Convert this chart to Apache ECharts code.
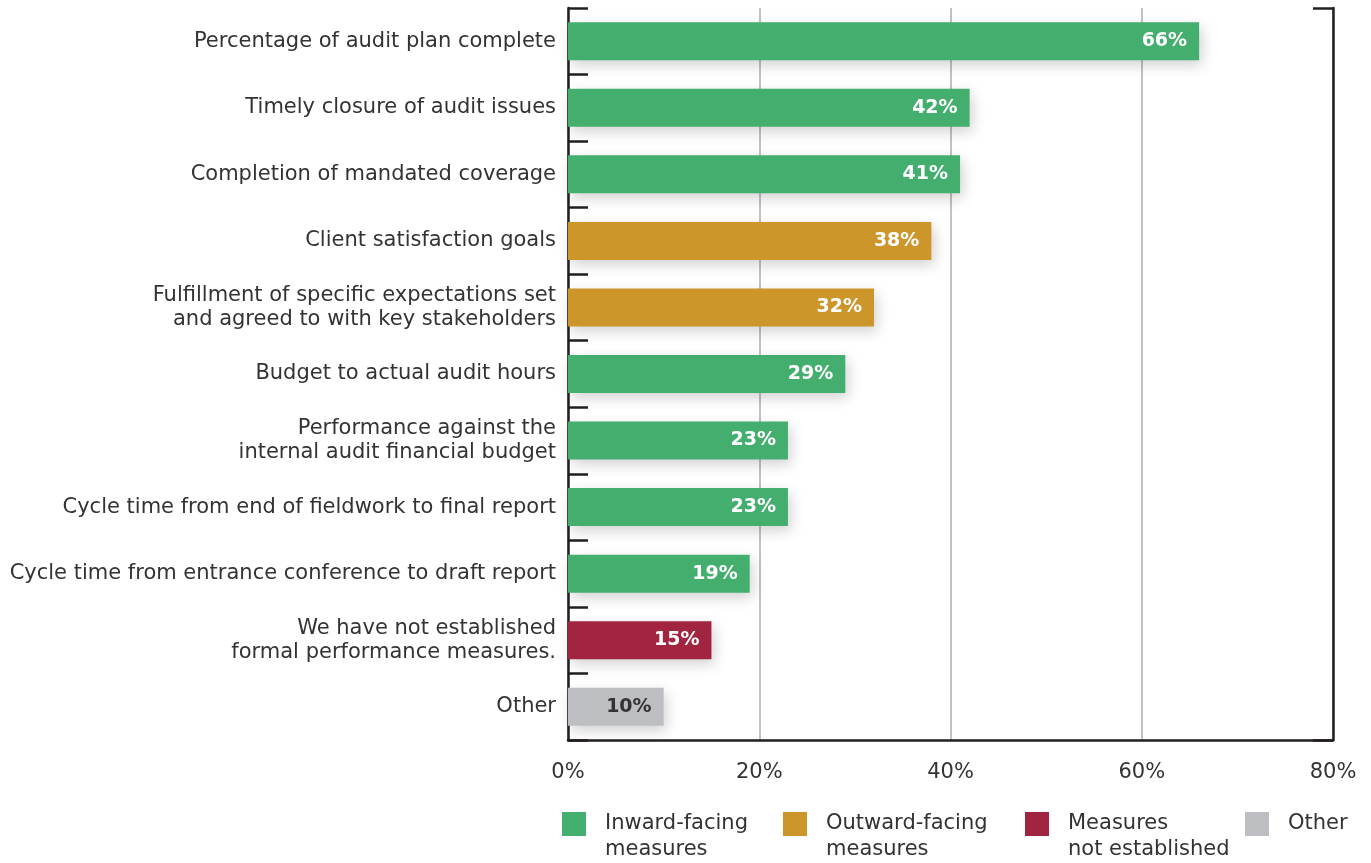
<!DOCTYPE html>
<html>
<head>
<meta charset="utf-8">
<script src="https://cdn.jsdelivr.net/npm/echarts@6/dist/echarts.min.js"></script>
<style>
html,body{margin:0;padding:0;background:#fff;}
#chart{width:1371px;height:863px;}
</style>
</head>
<body>
<div id="chart"></div>
<script>
const categories = [
  "Percentage of audit plan complete",
  "Timely closure of audit issues",
  "Completion of mandated coverage",
  "Client satisfaction goals",
  "Fulfillment of specific expectations set\nand agreed to with key stakeholders",
  "Budget to actual audit hours",
  "Performance against the\ninternal audit financial budget",
  "Cycle time from end of fieldwork to final report",
  "Cycle time from entrance conference to draft report",
  "We have not established\nformal performance measures.",
  "Other"
];
const values = [66, 42, 41, 38, 32, 29, 23, 23, 19, 15, 10];
const groups = ["inward","inward","inward","outward","outward","inward","inward","inward","inward","none","other"];
const groupKeys = ["inward","outward","none","other"];
const groupNames = ["Inward-facing\nmeasures","Outward-facing\nmeasures","Measures\nnot established","Other"];
const groupColors = ["#44ae6f","#cc962b","#a12441","#bdbec1"];
const xTicks = [0, 20, 40, 60, 80];

const FONT = "DejaVu Sans";
const chart = echarts.init(document.getElementById('chart'));

const series = groupKeys.map((g, gi) => ({
  name: groupNames[gi],
  type: 'bar',
  stack: 'all',
  barWidth: 38,
  data: values.map((v, i) => groups[i] === g ? v : '-'),
  itemStyle: {
    color: groupColors[gi],
    shadowBlur: 14,
    shadowColor: 'rgba(0,0,0,0.18)',
    shadowOffsetX: 3,
    shadowOffsetY: 5
  },
  label: {
    show: true,
    position: 'insideRight',
    distance: 12,
    formatter: '{c}%',
    color: g === 'other' ? '#333333' : '#ffffff',
    fontFamily: FONT,
    fontSize: 19,
    fontWeight: 'bold'
  }
}));

const legendLefts = [557, 778, 1020, 1240];
const legends = groupNames.map((n, i) => ({
  data: [n],
  left: legendLefts[i],
  top: 780,
  orient: 'horizontal',
  itemWidth: 24,
  itemHeight: 24,
  icon: 'rect',
  selectedMode: false,
  formatter: function (name) {
    return '\n' + name + (name.indexOf('\n') >= 0 ? '' : '\n ');
  },
  itemStyle: { shadowBlur: 0, shadowColor: 'transparent', shadowOffsetX: 0, shadowOffsetY: 0 },
  textStyle: {
    fontFamily: FONT,
    fontSize: 21,
    color: '#333333',
    lineHeight: 26,
    padding: [0, 0, 0, 14]
  }
}));

chart.setOption({
  animation: false,
  grid: { left: 568, right: 38, top: 8, bottom: 123, containLabel: false },
  legend: legends,
  xAxis: {
    type: 'value',
    min: xTicks[0],
    max: xTicks[xTicks.length - 1],
    interval: 20,
    axisLine: { show: true, lineStyle: { color: '#231f20', width: 2.5 } },
    axisTick: { show: false },
    splitLine: { show: true, lineStyle: { color: '#c2c2c4', width: 2 } },
    axisLabel: {
      formatter: '{value}%',
      margin: 22,
      fontFamily: FONT,
      fontSize: 21,
      color: '#333333'
    }
  },
  yAxis: [{
    type: 'category',
    data: categories,
    inverse: true,
    axisLine: { show: true, lineStyle: { color: '#231f20', width: 2.5 } },
    axisTick: { show: true, inside: true, length: 20, lineStyle: { color: '#231f20', width: 2.5 } },
    axisLabel: {
      margin: 12,
      fontFamily: FONT,
      fontSize: 21,
      lineHeight: 24,
      color: '#333333',
      align: 'right'
    }
  }, {
    type: 'category',
    data: categories,
    inverse: true,
    position: 'right',
    axisLine: { show: true, lineStyle: { color: '#231f20', width: 2.5 } },
    axisTick: { show: true, inside: true, length: 20, interval: function (idx) { return idx === 0; }, lineStyle: { color: '#231f20', width: 2.5 } },
    axisLabel: { show: false }
  }],
  series: series
});
</script>
</body>
</html>
